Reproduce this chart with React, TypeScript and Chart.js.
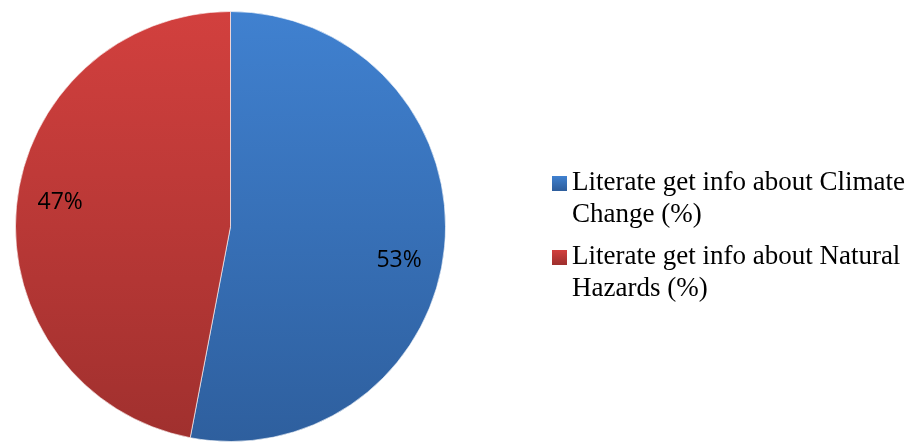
import React, { useEffect, useRef } from "react";
import { Chart, registerables } from "chart.js";

Chart.register(...registerables);

const labels = [
  "Literate get info about Climate Change (%)",
  "Literate get info about Natural Hazards (%)",
];
const values = [53, 47];
const valueLabels = ["53%", "47%"];

const topColors = ["#4081D0", "#D2403E"];
const bottomColors = ["#2E5F9E", "#A0302E"];

export default function App() {
  const ref = useRef<HTMLCanvasElement | null>(null);

  useEffect(() => {
    const canvas = ref.current;
    if (!canvas) return;

    const grad = (ctx: CanvasRenderingContext2D, i: number, y0: number, y1: number) => {
      const g = ctx.createLinearGradient(0, y0, 0, y1);
      g.addColorStop(0, topColors[i]);
      g.addColorStop(1, bottomColors[i]);
      return g;
    };

    const labelPlugin = {
      id: "customLabels",
      afterDatasetsDraw(chart: any) {
        const ctx: CanvasRenderingContext2D = chart.ctx;
        const meta = chart.getDatasetMeta(0);
        const offsets = [6, 2.5];
        ctx.save();
        ctx.font = "23px 'Open Sans', 'Liberation Sans', sans-serif";
        ctx.fillStyle = "#000";
        ctx.textAlign = "center";
        ctx.textBaseline = "middle";
        meta.data.forEach((arc: any, i: number) => {
          const p = arc.getProps(["x", "y", "startAngle", "endAngle", "outerRadius"], true);
          const mid = (p.startAngle + p.endAngle) / 2 + (offsets[i] * Math.PI) / 180;
          const r = p.outerRadius * 0.8;
          ctx.fillText(valueLabels[i], p.x + Math.cos(mid) * r, p.y + Math.sin(mid) * r);
        });
        ctx.restore();
      },
      afterDraw(chart: any) {
        const ctx: CanvasRenderingContext2D = chart.ctx;
        ctx.save();
        ctx.font = "27px 'Times New Roman', 'Liberation Serif', serif";
        ctx.fillStyle = "#000";
        ctx.textAlign = "left";
        ctx.textBaseline = "middle";
        const textX = 572;
        const maxW = 907 - textX;
        const lineH = 32;
        const itemStarts = [183, 257];
        labels.forEach((lab, i) => {
          const words = lab.split(" ");
          const lines: string[] = [];
          let cur = "";
          words.forEach((w) => {
            const t = cur ? cur + " " + w : w;
            if (ctx.measureText(t).width > maxW && cur) {
              lines.push(cur);
              cur = w;
            } else cur = t;
          });
          if (cur) lines.push(cur);
          const y0 = itemStarts[i];
          ctx.fillStyle = grad(ctx, i, y0 - 7, y0 + 7);
          ctx.fillRect(552, y0 - 7, 15, 15);
          ctx.fillStyle = "#000";
          lines.forEach((ln, k) => ctx.fillText(ln, textX, y0 + k * lineH));
        });
        ctx.restore();
      },
    };

    const chart = new Chart(canvas, {
      type: "pie",
      data: {
        labels,
        datasets: [
          {
            data: values,
            backgroundColor: (c: any) => {
              const area = c.chart.chartArea;
              if (!area) return topColors[c.dataIndex];
              return grad(c.chart.ctx, c.dataIndex, area.top, area.bottom);
            },
            borderColor: "rgba(255,255,255,0.6)",
            borderWidth: 1,
          },
        ],
      },
      options: {
        responsive: false,
        animation: false,
        layout: { padding: { left: 15, top: 11, right: 461, bottom: 0 } },
        plugins: {
          legend: { display: false },
          tooltip: { enabled: false },
        },
      },
      plugins: [labelPlugin],
    });
    return () => chart.destroy();
  }, []);

  return (
    <div style={{ position: "fixed", left: 0, top: 0, width: 907, height: 442, background: "#fff" }}>
      <canvas ref={ref} width={907} height={442} style={{ width: 907, height: 442, display: "block" }} />
    </div>
  );
}
